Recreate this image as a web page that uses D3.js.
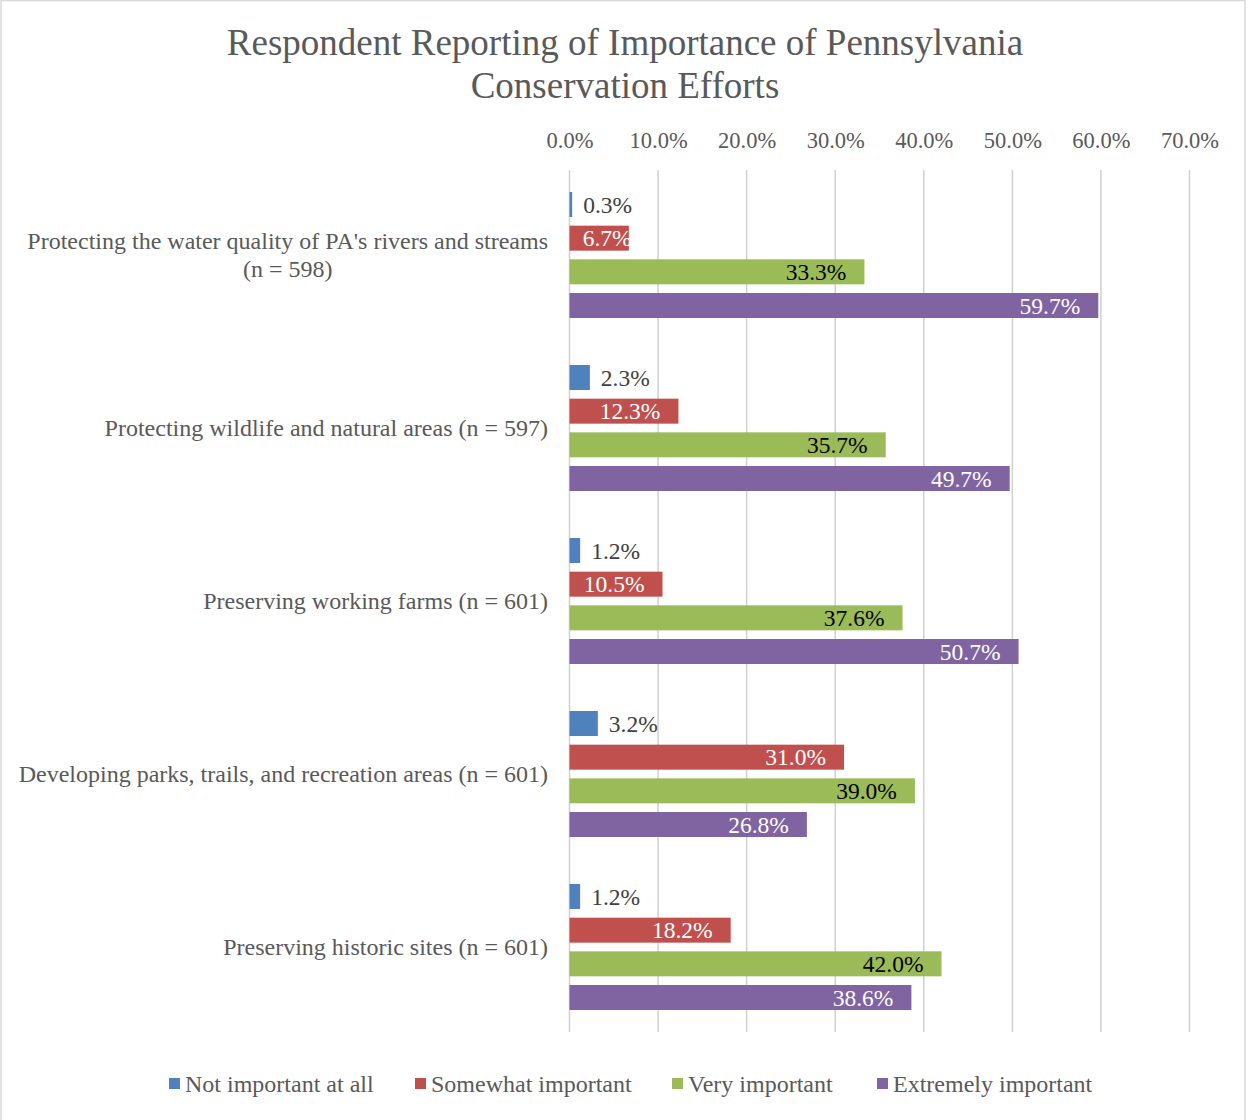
<!DOCTYPE html>
<html><head><meta charset="utf-8">
<script src="https://cdn.jsdelivr.net/npm/d3@7"></script>
<style>body{margin:0;background:#fff}svg{display:block}text{font-family:"Liberation Serif","Times New Roman",serif}</style>
</head><body>
<script>
const categories = [
  ["Protecting the water quality of PA's rivers and streams", "(n = 598)"],
  ["Protecting wildlife and natural areas (n = 597)"],
  ["Preserving working farms (n = 601)"],
  ["Developing parks, trails, and recreation areas (n = 601)"],
  ["Preserving historic sites (n = 601)"]
];
const seriesNames = ["Not important at all", "Somewhat important", "Very important", "Extremely important"];
const seriesColors = ["#4f81bd", "#c0504d", "#9bbb59", "#8064a2"];
const notImportant = [0.3, 2.3, 1.2, 3.2, 1.2];
const somewhat = [6.7, 12.3, 10.5, 31.0, 18.2];
const very = [33.3, 35.7, 37.6, 39.0, 42.0];
const extremely = [59.7, 49.7, 50.7, 26.8, 38.6];
const tickValues = [0, 10, 20, 30, 40, 50, 60, 70];
const values = [notImportant, somewhat, very, extremely];

const W = 1248, H = 1120;
const svg = d3.select("body").append("svg").attr("width", W).attr("height", H);
svg.append("rect").attr("x", 1).attr("y", 0.5).attr("width", 1244).attr("height", 1130)
  .attr("fill", "#fff").attr("stroke", "#d9d9d9").attr("stroke-width", 1.5);

const x = d3.scaleLinear().domain([0, 70]).range([569.5, 1189.5]);
const y0 = d3.scaleBand().domain(d3.range(categories.length)).range([168.5, 1033.5]);
const y1 = d3.scaleBand().domain(d3.range(4)).range([-63, 63]).paddingInner(0.258);

const FS = "23.5px";
const FS2 = "24px";
// title
svg.append("text").attr("x", 625).attr("y", 55).attr("text-anchor", "middle").attr("fill", "#595959")
  .style("font-size", "37px").text("Respondent Reporting of Importance of Pennsylvania");
svg.append("text").attr("x", 625).attr("y", 98).attr("text-anchor", "middle").attr("fill", "#595959")
  .style("font-size", "37px").text("Conservation Efforts");

// grid
const xAxis = d3.axisTop(x).tickValues(tickValues).tickFormat(d => d.toFixed(1) + "%").tickSize(0).tickPadding(0);
const gx = svg.append("g").attr("transform", "translate(0,148)").call(xAxis);
gx.select(".domain").remove();
gx.selectAll("text").attr("fill", "#595959").style("font-size", "22.5px").attr("dy", "0");
svg.append("g").selectAll("line").data(tickValues).join("line")
  .attr("x1", d => x(d)).attr("x2", d => x(d)).attr("y1", 170).attr("y2", 1032)
  .attr("stroke", "#d0d0d0").attr("stroke-width", 1.5);

// bars
const groups = svg.append("g").selectAll("g").data(categories).join("g")
  .attr("transform", (d, i) => `translate(0,${y0(i) + y0.bandwidth() / 2})`);
groups.each(function(cat, ci) {
  const g = d3.select(this);
  values.forEach((arr, si) => {
    const v = arr[ci];
    const yy = y1(si), h = y1.bandwidth();
    g.append("rect").attr("x", x(0)).attr("y", yy).attr("width", x(v) - x(0)).attr("height", h)
      .attr("fill", seriesColors[si]);
    const label = v.toFixed(1) + "%";
    const t = g.append("text").attr("y", yy + h / 2 + 8).style("font-size", FS).text(label);
    if (si === 0) {
      t.attr("x", x(v) + 11).attr("text-anchor", "start").attr("fill", "#404040");
    } else {
      t.attr("fill", si === 2 ? "#000" : "#fff");
      const tw = t.node().getComputedTextLength();
      const end = x(v) - 18;
      if (end - tw < x(0) + 4) {
        t.attr("x", (x(0) + x(v)) / 2 + 8).attr("text-anchor", "middle");
      } else {
        t.attr("x", end).attr("text-anchor", "end");
      }
    }
  });
  // category label
  const lines = cat;
  const lt = g.append("text").attr("fill", "#595959").style("font-size", FS2).attr("text-anchor", "middle");
  lines.forEach(ln => lt.append("tspan").text(ln));
  const first = lt.select("tspan").node().getComputedTextLength();
  const cx = 548 - first / 2;
  const lh = 28;
  lt.selectAll("tspan").attr("x", cx)
    .attr("y", (d, li) => 8 + (li - (lines.length - 1) / 2) * lh);
});

// legend
const legX = [169, 415, 672, 877];
const lg = svg.append("g").selectAll("g").data(seriesNames).join("g")
  .attr("transform", (d, i) => `translate(${legX[i]},1084)`);
lg.append("rect").attr("x", 0).attr("y", -6).attr("width", 11).attr("height", 11).attr("fill", (d, i) => seriesColors[i]);
lg.append("text").attr("x", 16).attr("y", 8).attr("fill", "#595959").style("font-size", FS2).text(d => d);
</script>
</body></html>
